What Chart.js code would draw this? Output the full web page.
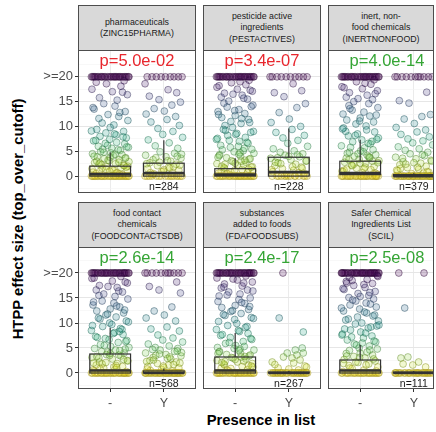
<!DOCTYPE html>
<html>
<head>
<meta charset="utf-8">
<script src="https://cdn.jsdelivr.net/npm/chart.js@4.4.1/dist/chart.umd.min.js"></script>
<style>
  body { margin:0; width:436px; height:432px; background:#fff; position:relative; overflow:hidden;
         font-family:"Liberation Sans", Arial, sans-serif; }
  canvas { position:absolute; }
  .strip { position:absolute; box-sizing:border-box; height:46px; background:#d9d9d9; border:1px solid #4d4d4d;
           display:flex; align-items:center; justify-content:center; text-align:center;
           font-size:8.8px; line-height:11.4px; color:#1a1a1a; white-space:pre-line; }
  .ttl { position:absolute; font-weight:bold; font-size:14.8px; color:#000; white-space:nowrap;
         transform:translate(-50%,-50%); }
</style>
</head>
<body>
<div class="ttl" style="left:18px;top:219px;transform:translate(-50%,-50%) rotate(-90deg);">HTPP effect size (top_over_cutoff)</div>
<div class="ttl" style="left:261px;top:420px;">Presence in list</div>
<script>
// ---- data ----
var CATS = ['-', 'Y'];
var Y_BREAKS = [0, 5, 10, 15, 20];
var Y_LABELS = ['0', '5', '10', '15', '>=20'];
var Y_MINOR = [-2.5, 2.5, 7.5, 12.5, 17.5, 22.5];

var STRIPS = ['pharmaceuticals\n(ZINC15PHARMA)', 'pesticide active\ningredients\n(PESTACTIVES)',
              'inert, non-\nfood chemicals\n(INERTNONFOOD)', 'food contact\nchemicals\n(FOODCONTACTSDB)',
              'substances\nadded to foods\n(FDAFOODSUBS)', 'Safer Chemical\nIngredients List\n(SCIL)'];
var P_TEXT = ['p=5.0e-02', 'p=3.4e-07', 'p=4.0e-14', 'p=2.6e-14', 'p=2.4e-17', 'p=2.5e-08'];
var N_TEXT = ['n=284', 'n=228', 'n=379', 'n=568', 'n=267', 'n=111'];
var LIST_HIGHER = [true, true, false, false, false, false];

// points capped at >=20 and points at 0, per panel
var CAP_NO   = [30, 30, 30, 32, 32, 35];
var CAP_YES  = [9, 10, 11, 11, 1, 2];
var ZERO_NO  = [30, 28, 28, 30, 30, 26];
var ZERO_YES = [16, 14, 32, 34, 30, 26];

// box statistics
var Q1_NO  = [0, 0, 0.3, 0, 0, 0];
var MED_NO = [0.4, 0.3, 0.6, 0.5, 0.5, 0.5];
var Q3_NO  = [2.0, 1.5, 3.0, 3.8, 3.2, 2.6];
var HI_NO  = [4.8, 3.6, 7.3, 9.0, 8.0, 5.6];
var Q1_YES  = [0, 0, 0, 0, 0, 0];
var MED_YES = [0.6, 0.8, 0, 0, 0, 0];
var Q3_YES  = [2.6, 3.8, 0.3, 0.4, 0.2, 0.2];
var HI_YES  = [7.2, 9.6, 0.6, 0.9, 0.4, 0.4];

// jitter offsets
var JITTER = [-0.31,0.12,0.27,-0.05,-0.22,0.34,0.03,-0.14,0.19,-0.35,0.08,0.24,-0.27,-0.09,0.31,0.15,-0.18,0.01,-0.33,0.22,
              0.06,-0.24,0.29,-0.11,0.17,-0.02,0.35,-0.29,0.1,-0.16,0.26,-0.07,0.2,-0.34,0.04,0.32,-0.2,0.13,-0.26,0.23,
              -0.12,0.09,-0.3,0.28,-0.04,0.16,-0.21,0.33,-0.15,0.07,-0.32,0.18,0.0,-0.25,0.25,-0.08,0.11,-0.19,0.3,-0.01];

// values between 0 and 20
var pharmaNo = [19.2,18.6,18.1,17.5,17.0,16.4,15.8,15.3,18.9,16.9,
  14.6,14.1,13.5,13.0,12.4,12.0,11.6,11.2,10.7,10.3,13.8,12.8,
  9.8,9.4,9.0,8.7,8.3,8.0,7.7,7.4,7.1,6.8,6.5,6.2,6.0,5.8,5.6,5.4,5.2,9.1,8.5,7.9,7.2,6.6,5.9,5.3,
  4.9,4.7,4.5,4.3,4.1,3.9,3.7,3.5,3.3,3.1,2.9,2.7,2.5,2.3,2.1,1.9,1.7,1.5,1.3,1.1,0.9,0.7,0.5,0.3,
  4.8,4.4,4.0,3.6,3.2,2.8,2.4,2.0,1.6,1.2,0.8,0.4,3.8,3.0,2.2,1.4,0.6,2.6,1.8,1.0];
var pharmaYes = [18.6,17.4,16.8,16.1,15.4,14.9,14.3,13.6,13.1,12.5,12.0,11.4,10.9,10.2,
  9.6,9.0,8.4,7.8,7.3,6.7,6.1,5.6,
  4.9,4.6,4.2,3.9,3.6,3.3,3.0,2.7,2.4,2.1,1.8,1.5,1.2,0.9,0.6,0.3,4.4,3.7,3.1,2.5,1.9,1.3,0.7,4.0,2.8,1.6,0.5,2.2,1.0];
var pestNo = [19.3,18.8,18.4,17.9,17.5,17.1,16.7,16.3,15.9,15.5,15.1,19.0,18.2,17.3,16.5,15.7,
  14.7,14.3,13.9,13.4,13.0,12.6,12.2,11.8,11.4,11.0,10.6,10.2,14.0,13.2,12.4,11.6,10.8,
  9.8,9.4,9.0,8.6,8.2,7.8,7.4,7.0,6.6,6.2,5.8,5.4,5.1,9.2,8.4,7.6,6.8,6.0,5.3,8.8,7.2,5.6,
  4.9,4.6,4.3,4.0,3.7,3.4,3.1,2.8,2.5,2.2,1.9,1.6,1.3,1.0,0.7,0.4,4.7,4.1,3.5,2.9,2.3,1.7,1.1,0.5,
  4.4,3.8,3.2,2.6,2.0,1.4,0.8,3.0,2.4,1.8,1.2,0.6];
var pestYes = [18.6,17.2,16.8,16.0,14.6,13.8,12.8,11.5,10.8,10.0,9.4,8.8,8.2,7.7,7.2,6.6,6.0,5.5,5.1,
  4.8,4.5,4.2,3.9,3.6,3.3,3.0,2.7,2.4,2.1,1.8,1.5,1.2,0.9,0.6,0.3,4.3,3.7,3.1,2.5,1.9,1.3,0.7,4.0,2.8,1.6];
var inertNo = [19.4,19.0,18.5,18.0,17.6,17.2,16.8,16.3,15.9,15.4,15.0,18.7,17.8,16.6,15.6,
  14.6,14.2,13.8,13.3,12.9,12.5,12.1,11.7,11.3,10.9,10.5,10.1,13.6,12.3,11.1,
  9.7,9.3,8.9,8.5,8.1,7.7,7.3,6.9,6.5,6.1,5.7,5.3,9.0,8.2,7.4,6.6,5.8,5.1,9.5,7.0,
  4.9,4.6,4.3,4.0,3.7,3.4,3.1,2.8,2.5,2.2,1.9,1.6,1.3,1.0,0.7,0.4,4.8,4.2,3.6,3.0,2.4,1.8,1.2,0.6,
  4.5,3.9,3.3,2.7,2.1,1.5,0.9,3.8,2.6,1.4,0.5];
var inertYes = [16.9,15.2,14.7,12.4,12.0,11.5,10.6,9.8,9.3,8.9,8.4,7.9,7.5,7.1,6.7,6.3,5.9,5.5,5.2,
  4.8,4.5,4.1,3.8,3.5,3.2,2.9,2.6,2.3,2.0,1.7,1.4,1.1,0.8,0.5,4.3,3.6,3.0,2.4,1.8,1.2,0.6,2.7,1.5,0.9];
var foodNo = [19.3,18.9,18.4,18.0,17.5,17.1,16.6,16.2,15.8,15.3,19.0,18.2,17.3,16.4,15.5,
  14.8,14.4,14.0,13.6,13.2,12.8,12.4,12.0,11.6,11.2,10.8,10.4,10.0,14.2,13.4,12.6,11.8,11.0,10.2,
  9.7,9.3,8.9,8.5,8.1,7.7,7.3,6.9,6.5,6.1,5.7,5.3,9.5,8.7,7.9,7.1,6.3,5.5,8.3,6.7,5.1,
  4.9,4.6,4.3,4.0,3.7,3.4,3.1,2.8,2.5,2.2,1.9,1.6,1.3,1.0,0.7,0.4,4.8,4.2,3.6,3.0,2.4,1.8,1.2,0.6,
  4.5,3.9,3.3,2.7,2.1,1.5,0.9,0.3,3.5,2.0,1.1];
var foodYes = [18.2,17.3,16.6,16.0,13.2,12.4,11.6,11.0,10.4,9.2,8.8,8.4,7.6,7.0,6.6,6.2,5.8,5.4,5.1,
  4.9,4.6,4.3,4.0,3.7,3.4,3.1,2.8,2.5,2.2,1.9,1.6,1.3,1.0,0.7,0.4,4.7,4.1,3.5,2.9,2.3,1.7,1.1,0.5,
  4.4,3.8,3.2,2.6,2.0,1.4,0.8];
var fdaNo = [19.4,19.0,18.6,18.2,17.8,17.4,17.0,16.6,16.2,15.8,15.4,15.0,18.8,18.0,17.2,16.4,15.6,
  14.7,14.3,13.9,13.5,13.1,12.7,12.3,11.9,11.5,11.1,10.7,10.3,14.1,13.3,12.5,11.7,10.9,
  9.9,9.5,9.1,8.7,8.3,7.9,7.5,7.1,6.7,6.3,5.9,5.5,5.1,9.3,8.5,7.7,6.9,6.1,5.3,
  4.9,4.6,4.3,4.0,3.7,3.4,3.1,2.8,2.5,2.2,1.9,1.6,1.3,1.0,0.7,0.4,4.8,4.2,3.6,3.0,2.4,1.8,1.2,0.6,
  4.5,3.9,3.3,2.7,2.1,1.5,0.9,3.2,2.3,1.4];
var fdaYes = [11,8.2,4.6,5.0,3.6,3.0,2.6,4.0,2.0,2.2,3.2,4.0,1.4,1.0,0.8,1.7,0.6,1.2];
var fdaYesDx = [-0.11,-0.18,0.27,0.12,0.25,0.15,0.06,0.21,0.27,0.09,-0.31,-0.1,-0.03,0.3,-0.2,0.0,-0.26,0.18,0.33];
var scilNo = [19.5,19.1,18.7,18.3,17.9,17.5,17.1,16.7,16.3,15.9,15.5,15.1,19.3,18.5,17.7,16.9,16.1,15.3,18.0,
  14.8,14.4,14.0,13.6,13.2,12.8,12.4,12.0,11.6,11.2,10.8,10.4,10.0,14.6,13.8,13.0,12.2,11.4,10.6,
  9.8,9.4,9.0,8.6,8.2,7.8,7.4,7.0,6.6,6.2,5.8,5.4,5.0,9.6,8.8,8.0,7.2,6.4,5.6,9.2,7.6,6.0,
  4.8,4.5,4.2,3.9,3.6,3.3,3.0,2.7,2.4,2.1,1.8,1.5,1.2,0.9,0.6,0.3,4.6,4.0,3.4,2.8,2.2,1.6,1.0,0.4,3.1,1.9];
var scilYes = [13,3.0,3.2,2.2,1.6,1.8,1.2];
var scilYesDx = [-0.28,0.19,-0.17,-0.24,-0.11,0.09,-0.02,-0.2,0.22];

var SPREAD_NO  = [pharmaNo, pestNo, inertNo, foodNo, fdaNo, scilNo];
var SPREAD_YES = [pharmaYes, pestYes, inertYes, foodYes, fdaYes, scilYes];
var DX_YES     = [null, null, null, null, fdaYesDx, scilYesDx];

// ---- layout ----
var COL_LEFT = [78, 203, 328], COL_W = [118, 118, 106];
var ROW_TOP = [50, 247], PLOT_H = [143, 142];
var Y_MIN = [-3.4, -3.2], Y_MAX = [25.4, 25.2];
var STRIP_TOP = [5, 202];
var Y_AXIS_W = 48, X_AXIS_H = 26, UNIT = 118 / 2.2;

Chart.defaults.font.family = '"Liberation Sans", Arial, sans-serif';

var VIR = [[68,1,84],[71,44,122],[59,81,139],[44,113,142],[33,144,141],[39,173,129],[92,200,99],[170,220,50],[253,231,37]];
function vir(t) {
    t = Math.max(0, Math.min(1, t)) * 8;
    var i = Math.min(7, Math.floor(t)), f = t - i, a = VIR[i], b = VIR[i+1];
    return [0,1,2].map(function (j) { return Math.round(a[j] + (b[j]-a[j])*f); });
}
function fillCol(c) { var v = vir(1 - c.raw.y/20); return 'rgba('+v.join(',')+',0.22)'; }
function lineCol(c) { var v = vir(1 - c.raw.y/20).map(function (q) { return Math.round(q*0.62); }); return 'rgba('+v.join(',')+',0.5)'; }

function groupPoints(cx, cap, spread, zeros, dx) {
    var ys = [], i;
    for (i = 0; i < cap; i++) ys.push(20);
    ys = ys.concat(spread);
    for (i = 0; i < zeros; i++) ys.push(0);
    return ys.map(function (y, i) {
        var off = (dx && i < dx.length) ? dx[i] : JITTER[i % JITTER.length];
        return {x: cx + off, y: y};
    });
}

function overlay(k) {
    return {
        id: 'overlay' + k,
        afterDatasetsDraw: function (chart) {
            var ctx = chart.ctx, a = chart.chartArea, x = chart.scales.x, y = chart.scales.y;
            var stats = [[Q1_NO, MED_NO, Q3_NO, HI_NO], [Q1_YES, MED_YES, Q3_YES, HI_YES]];
            ctx.save();
            stats.forEach(function (st, g) {
                var cx = x.getPixelForValue(g+1), hw = x.getPixelForValue(g+1.38) - cx;
                var q1 = y.getPixelForValue(st[0][k]), md = y.getPixelForValue(st[1][k]),
                    q3 = y.getPixelForValue(st[2][k]), hi = y.getPixelForValue(st[3][k]);
                ctx.strokeStyle = '#333'; ctx.lineWidth = 1.2;
                ctx.beginPath(); ctx.moveTo(cx, q3); ctx.lineTo(cx, hi); ctx.stroke();
                ctx.strokeRect(cx - hw, q3, 2*hw, q1 - q3);
                ctx.lineWidth = 2.6;
                ctx.beginPath(); ctx.moveTo(cx - hw, md); ctx.lineTo(cx + hw, md); ctx.stroke();
            });
            ctx.textAlign = 'center'; ctx.textBaseline = 'middle';
            ctx.fillStyle = LIST_HIGHER[k] ? '#e8262d' : '#35a535';
            ctx.font = '16.5px "Liberation Sans", Arial, sans-serif';
            ctx.fillText(P_TEXT[k], x.getPixelForValue(1.5), y.getPixelForValue(23));
            ctx.fillStyle = '#1a1a1a';
            ctx.font = '10.5px "Liberation Sans", Arial, sans-serif';
            ctx.fillText(N_TEXT[k], x.getPixelForValue(2), y.getPixelForValue(-2.2));
            ctx.strokeStyle = '#4d4d4d'; ctx.lineWidth = 1;
            ctx.strokeRect(a.left + 0.5, a.top + 0.5, a.width - 1, a.height - 1);
            ctx.restore();
        }
    };
}

function isMajor(c) { return c.tick && Y_BREAKS.indexOf(c.tick.value) >= 0; }
function noPad(s) { s.paddingTop = 0; s.paddingBottom = 0; s.paddingLeft = 0; s.paddingRight = 0; }

for (var k = 0; k < 6; k++) (function (k) {
    var col = k % 3, row = Math.floor(k / 3);
    var strip = document.createElement('div');
    strip.className = 'strip';
    strip.style.left = COL_LEFT[col] + 'px'; strip.style.top = STRIP_TOP[row] + 'px';
    strip.style.width = COL_W[col] + 'px';
    strip.textContent = STRIPS[k];
    document.body.appendChild(strip);

    var cv = document.createElement('canvas');
    var left = col === 0 ? COL_LEFT[col] - Y_AXIS_W : COL_LEFT[col];
    var w = COL_W[col] + (col === 0 ? Y_AXIS_W : 0), h = PLOT_H[row] + (row === 1 ? X_AXIS_H : 0);
    cv.width = w; cv.height = h;
    cv.style.left = left + 'px'; cv.style.top = ROW_TOP[row] + 'px';
    document.body.appendChild(cv);

    var pts = [groupPoints(1, CAP_NO[k], SPREAD_NO[k], ZERO_NO[k], null),
               groupPoints(2, CAP_YES[k], SPREAD_YES[k], ZERO_YES[k], DX_YES[k])];

    new Chart(cv, {
        type: 'scatter',
        data: { datasets: pts.map(function (p) {
            return { data: p, pointRadius: 3.4, pointHoverRadius: 3.4, borderWidth: 0.9,
                     backgroundColor: fillCol, borderColor: lineCol };
        }) },
        options: {
            responsive: false, animation: false, events: [],
            layout: { padding: 0, autoPadding: false },
            plugins: { legend: {display:false}, tooltip: {enabled:false} },
            scales: {
                x: { type: 'linear', min: 0.4, max: 0.4 + COL_W[col]/UNIT, border: {display:false},
                     afterBuildTicks: function (s) { s.ticks = [{value:1}, {value:2}]; },
                     afterFit: function (s) { s.height = row === 1 ? X_AXIS_H : 0; noPad(s); },
                     grid: { color:'#ebebeb', lineWidth:1, tickColor:'#333', tickLength:3, drawTicks: row === 1 },
                     ticks: { display: row === 1, autoSkip:false, maxRotation:0, padding:4,
                              font:{size:12.5}, color:'#4d4d4d',
                              callback: function (v) { return CATS[v-1]; } } },
                y: { type: 'linear', min: Y_MIN[row], max: Y_MAX[row], border: {display:false},
                     afterBuildTicks: function (s) {
                         s.ticks = Y_MINOR.concat(Y_BREAKS).sort(function (a, b) { return a - b; })
                                   .map(function (v) { return {value: v}; });
                     },
                     afterFit: function (s) { s.width = col === 0 ? Y_AXIS_W : 0; noPad(s); },
                     grid: { color: function (c) { return isMajor(c) ? '#e6e6e6' : '#f3f3f3'; },
                             lineWidth: function (c) { return isMajor(c) ? 1 : 0.6; },
                             tickColor: function (c) { return isMajor(c) ? '#333' : 'rgba(0,0,0,0)'; },
                             tickLength: 3, drawTicks: col === 0 },
                     ticks: { display: col === 0, autoSkip:false, padding:2, font:{size:13}, color:'#4d4d4d',
                              callback: function (v) { var i = Y_BREAKS.indexOf(v); return i < 0 ? '' : Y_LABELS[i]; } } }
            }
        },
        plugins: [overlay(k)]
    });
})(k);
</script>
</body>
</html>
